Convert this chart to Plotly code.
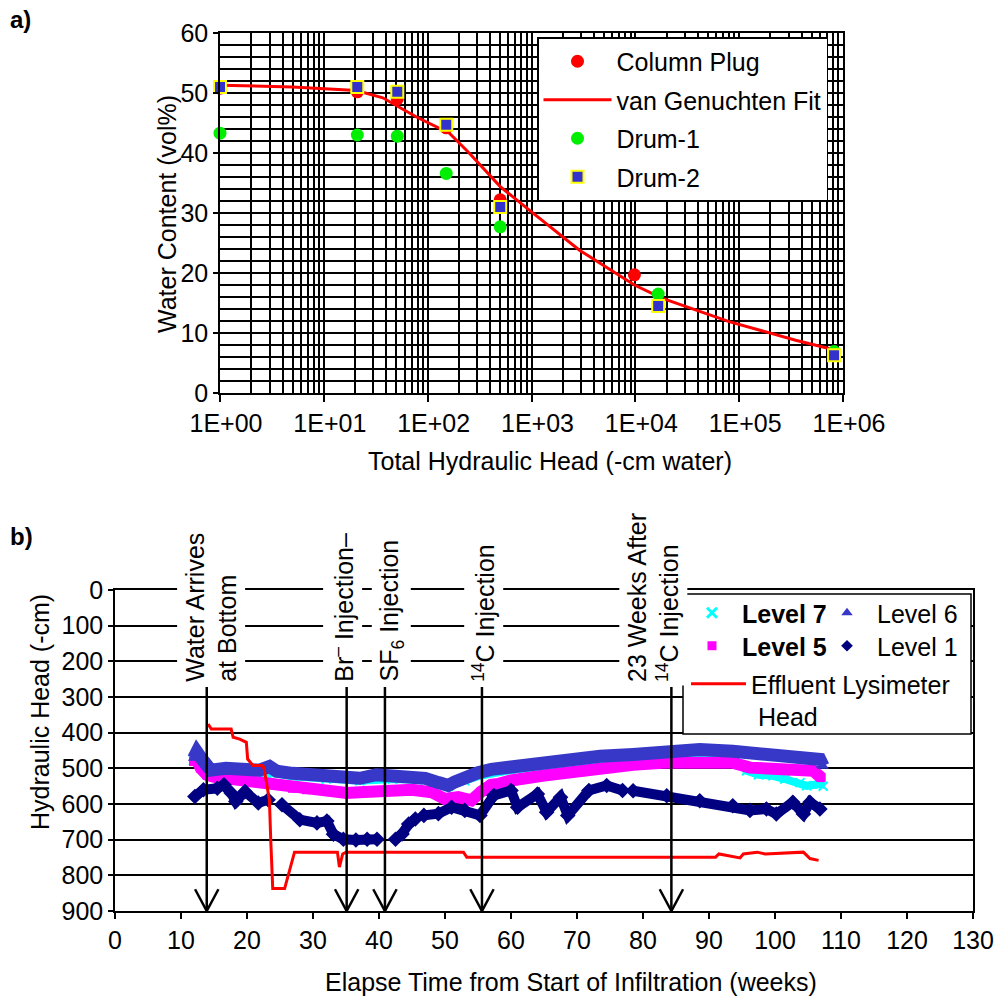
import plotly.graph_objects as go

W = H = 1003
def px(x): return x / W
def py(y): return 1 - y / H

FONT = "Liberation Sans, Arial, sans-serif"

# ---------------- Panel a data ----------------
cp_h = [1, 21, 51, 151, 500, 9800]
cp_theta = [50.8, 50.2, 49.0, 44.2, 32.2, 19.7]
d1_h = [1, 21, 51, 151, 500, 16600, 820000]
d1_theta = [43.3, 43.0, 42.8, 36.6, 27.7, 16.5, 6.9]
d2_h = [1, 21, 51, 151, 500, 16600, 820000]
d2_theta = [51.0, 51.0, 50.2, 44.7, 31.0, 14.5, 6.3]
fit_h = [1, 5, 20.6, 37, 78, 162, 251, 500, 1000, 2900, 9800, 18000, 80000, 350000, 820000]
fit_theta = [51.3, 51.0, 50.4, 49.2, 46.0, 43.3, 40.0, 34.4, 30.2, 23.8, 18.0, 15.8, 11.9, 8.8, 7.2]
a_tickvals = [1, 10, 100, 1000, 10000, 100000, 1000000]
a_ticktext = ["1E+00", "1E+01", "1E+02", "1E+03", "1E+04", "1E+05", "1E+06"]

# ---------------- Panel b data ----------------
w6 = [11.9, 12.4, 13.0, 13.9, 14.5, 16.8, 19.0, 21.9, 23.4, 24.5, 26.9, 29.0, 32.0, 35.0, 37.1, 39.6, 42.0,
      45.0, 47.0, 49.0, 50.5, 51.5, 53.0, 55.0, 57.0, 60.0, 65.0, 70.0, 73.5, 78.5, 83.6, 88.6, 93.6, 98.7,
      103.8, 106.8, 107.3]
v6 = [472, 454, 470, 491, 505, 500, 505, 505, 495, 508, 514, 518, 523, 526, 528, 518, 522, 524, 528, 540, 548,
      538, 525, 512, 503, 495, 483, 474, 466, 461, 456, 447, 452, 461, 466, 475, 494]

w5 = [11.9, 12.3, 13.0, 13.9, 15.0, 16.8, 19.0, 21.9, 24.0, 26.9, 29.0, 32.0, 35.1, 37.0, 39.6, 42.0, 45.0,
      48.0, 50.0, 52.0, 54.0, 55.5, 57.0, 58.0, 60.0, 65.0, 70.0, 73.5, 78.5, 83.6, 88.6, 93.6, 96.2, 101.2,
      105.8, 107.0]
v5 = [481, 472, 500, 518, 524, 528, 532, 537, 545, 556, 560, 565, 569, 567, 565, 562, 560, 567, 586, 581, 590,
      565, 546, 544, 534, 520, 506, 498, 490, 484, 483, 484, 498, 503, 507, 526]

w7 = [11.9, 13.0, 14.0, 16.8, 21.9, 22.6, 23.4, 26.9, 32.0, 37.1, 42.0, 47.0, 50.5, 53.0, 55.0, 60.0, 65.0,
      70.0, 73.5, 78.5, 83.6, 88.6, 93.6, 95.7, 97.5, 99.7, 101.5, 103.8, 104.8, 106.8, 107.3]
v7 = [478, 490, 505, 512, 515, 540, 512, 522, 530, 535, 530, 532, 550, 535, 522, 505, 492, 482, 476, 470, 466,
      462, 468, 507, 518, 521, 530, 540, 549, 544, 550]

w1 = [12.1, 13.4, 15.5, 16.5, 17.6, 18.3, 19.7, 21.7, 23.2, None, 25.3, 28.0, 30.6, 32.1, 33.1, 34.6, 36.5,
      38.2, 39.7, None, 42.5, 43.5, 44.5, 45.5, None, 46.8, 49.0, 51.0, 53.0, 55.3, 57.4, 60.0, 61.0, 64.0,
      65.4, 67.5, 68.6, 71.8, 74.5, 76.9, None, 78.5, 83.6, 88.6, 93.6, 96.2, 98.7, 100.2, 102.7, 104.3,
      105.3, 106.8]
v1 = [579, 560, 556, 546, 569, 593, 565, 597, 588, None, 602, 644, 653, 648, 685, 699, 701, 699, 699, None,
      699, 684, 656, 642, None, 632, 627, 609, 618, 632, 576, 562, 609, 572, 623, 581, 632, 562, 548, 562, None,
      563, 577, 591, 605, 618, 614, 628, 595, 628, 595, 614]

we = [14.1, 14.6, 17.6, 17.9, 18.9, 19.9, 20.1, 20.9, 22.4, 22.6, 22.9, 23.4, 23.6, 23.9, 25.7, 26.7, 27.2,
      33.7, 34.0, 34.5, 35.0, 52.8, 53.3, 91.0, 91.5, 94.7, 95.2, 97.3, 98.5, 104.3, 104.8, 105.3, 106.6]
ve = [376, 390, 390, 413, 418, 427, 474, 492, 492, 502, 534, 590, 702, 837, 837, 772, 735, 735, 777, 740, 735,
      735, 749, 749, 740, 751, 740, 735, 740, 735, 745, 753, 758]

event_weeks = [13.9, 35.1, 40.9, 55.6, 84.3]
event_labels = ["Water Arrives<br>at Bottom", "Br<sup>–</sup> Injection–", "SF<sub>6</sub> Injection",
                "<sup>14</sup>C Injection", "23 Weeks After<br><sup>14</sup>C Injection"]

fig = go.Figure()

# ---- panel a traces ----
fig.add_trace(go.Scatter(x=cp_h, y=cp_theta, mode="markers", name="Column Plug",
                         marker=dict(symbol="circle", color="#FF0000", size=13),
                         cliponaxis=False, legendgroup="a1", xaxis="x", yaxis="y"))
fig.add_trace(go.Scatter(x=fit_h, y=fit_theta, mode="lines", name="van Genuchten Fit",
                         line=dict(color="#FF0000", width=3), legendgroup="a2", xaxis="x", yaxis="y"))
fig.add_trace(go.Scatter(x=d1_h, y=d1_theta, mode="markers", name="Drum-1",
                         marker=dict(symbol="circle", color="#00EE00", size=13),
                         cliponaxis=False, legendgroup="a3", xaxis="x", yaxis="y"))
fig.add_trace(go.Scatter(x=d2_h, y=d2_theta, mode="markers", name="Drum-2",
                         marker=dict(symbol="square", color="#3333CC", size=12,
                                     line=dict(color="#FFFF00", width=2)),
                         cliponaxis=False, legendgroup="a4", xaxis="x", yaxis="y"))

# ---- panel b traces ----
fig.add_trace(go.Scatter(x=w7, y=v7, mode="lines+markers", showlegend=False,
                         line=dict(color="#00FFFF", width=8),
                         marker=dict(symbol="x-thin", size=9, color="#00FFFF",
                                     line=dict(color="#00FFFF", width=2)),
                         xaxis="x2", yaxis="y2"))
fig.add_trace(go.Scatter(x=w5, y=v5, mode="lines+markers", showlegend=False,
                         line=dict(color="#FF00FF", width=12),
                         marker=dict(symbol="square", size=9, color="#FF00FF"),
                         xaxis="x2", yaxis="y2"))
fig.add_trace(go.Scatter(x=w6, y=v6, mode="lines+markers", showlegend=False,
                         line=dict(color="#3838C8", width=13),
                         marker=dict(symbol="triangle-up", size=10, color="#3838C8"),
                         xaxis="x2", yaxis="y2"))
fig.add_trace(go.Scatter(x=w1, y=v1, mode="lines+markers", showlegend=False,
                         line=dict(color="#000080", width=10),
                         marker=dict(symbol="diamond", size=12, color="#000080"),
                         xaxis="x2", yaxis="y2"))
fig.add_trace(go.Scatter(x=we, y=ve, mode="lines", showlegend=False,
                         line=dict(color="#FF0000", width=3),
                         xaxis="x2", yaxis="y2"))

# legend-only entries for panel b (one small legend each, framed by a common box)
fig.add_trace(go.Scatter(x=[None], y=[None], mode="markers", name="<b>Level 7</b>", legend="legend2",
                         marker=dict(symbol="x-thin", size=10, color="#00FFFF",
                                     line=dict(color="#00FFFF", width=3)), xaxis="x2", yaxis="y2"))
fig.add_trace(go.Scatter(x=[None], y=[None], mode="markers", name="<b>Level 5</b>", legend="legend3",
                         marker=dict(symbol="square", size=9, color="#FF00FF"), xaxis="x2", yaxis="y2"))
fig.add_trace(go.Scatter(x=[None], y=[None], mode="markers", name="Level 6", legend="legend4",
                         marker=dict(symbol="triangle-up", size=10, color="#3838C8"), xaxis="x2", yaxis="y2"))
fig.add_trace(go.Scatter(x=[None], y=[None], mode="markers", name="Level 1", legend="legend5",
                         marker=dict(symbol="diamond", size=9, color="#000080"), xaxis="x2", yaxis="y2"))
fig.add_trace(go.Scatter(x=[None], y=[None], mode="lines", name="Effluent Lysimeter<br> Head",
                         legend="legend6", line=dict(color="#FF0000", width=3), xaxis="x2", yaxis="y2"))

# ---- arrows (shapes) ----
shapes = []
AH_W = 1.77   # arrowhead half-width in weeks
AH_H = 61     # arrowhead height in head units
for wk in event_weeks:
    shapes.append(dict(type="line", xref="x2", yref="y2", x0=wk, x1=wk, y0=272, y1=900,
                       line=dict(color="black", width=2.5), layer="above"))
    shapes.append(dict(type="line", xref="x2", yref="y2", x0=wk - AH_W, x1=wk, y0=900 - AH_H, y1=900,
                       line=dict(color="black", width=2.5), layer="above"))
    shapes.append(dict(type="line", xref="x2", yref="y2", x0=wk + AH_W, x1=wk, y0=900 - AH_H, y1=900,
                       line=dict(color="black", width=2.5), layer="above"))
# legend box for panel b
shapes.append(dict(type="rect", xref="paper", yref="paper", x0=px(683), x1=px(971), y0=py(734), y1=py(594),
                   fillcolor="white", line=dict(color="black", width=1.5), layer="above"))

annotations = []
label_centers = [14.5, 34.5, 41.8, 55.8, 81.5]
for t, c in zip(event_labels, label_centers):
    annotations.append(dict(x=c, y=268, xref="x2", yref="y2", text=t, textangle=-90, showarrow=False,
                            xanchor="center", yanchor="bottom", align="left", bgcolor="white",
                            borderpad=3, font=dict(size=25, color="black", family=FONT)))

annotations += [
    dict(x=px(550), y=py(461), xref="paper", yref="paper", text="Total Hydraulic Head (-cm water)",
         showarrow=False, xanchor="center", yanchor="middle", font=dict(size=25)),
    dict(x=px(167), y=py(214), xref="paper", yref="paper", text="Water Content (vol%)", textangle=-90,
         showarrow=False, xanchor="center", yanchor="middle", font=dict(size=25)),
    dict(x=px(571), y=py(982), xref="paper", yref="paper",
         text="Elapse Time from Start of Infiltration (weeks)",
         showarrow=False, xanchor="center", yanchor="middle", font=dict(size=25)),
    dict(x=px(40), y=py(712), xref="paper", yref="paper", text="Hydraulic Head (-cm)", textangle=-90,
         showarrow=False, xanchor="center", yanchor="middle", font=dict(size=25)),
    dict(x=px(8), y=py(19), xref="paper", yref="paper", text="<b>a)</b>",
         showarrow=False, xanchor="left", yanchor="middle", font=dict(size=24)),
    dict(x=px(8), y=py(536), xref="paper", yref="paper", text="<b>b)</b>",
         showarrow=False, xanchor="left", yanchor="middle", font=dict(size=24)),
]

minor_vals = [m * 10 ** k for k in range(6) for m in range(2, 10)]

def small_legend(x, y, iw=50):
    return dict(x=px(x), y=py(y), xanchor="left", yanchor="top", bgcolor="rgba(0,0,0,0)",
                borderwidth=0, font=dict(size=25), itemwidth=iw, valign="top")

fig.update_layout(
    width=W, height=H, margin=dict(l=0, r=0, t=0, b=0, pad=0, autoexpand=False),
    paper_bgcolor="white", plot_bgcolor="white",
    font=dict(family=FONT, size=25, color="black"),
    xaxis=dict(type="log", domain=[px(220), px(843)], range=[0, 6], anchor="y",
               tickvals=a_tickvals, ticktext=a_ticktext, ticks="outside", ticklen=7, tickwidth=1.5,
               tickcolor="black", ticklabelshift=6,
               showgrid=True, gridcolor="black", gridwidth=2,
               minor=dict(tickvals=minor_vals, showgrid=True, gridcolor="black", gridwidth=1.5, ticks=""),
               showline=True, linecolor="black", linewidth=1.5, mirror=True, zeroline=False),
    yaxis=dict(domain=[py(393), py(33)], range=[0, 60], anchor="x", dtick=10, ticks="outside", ticklen=5,
               tickwidth=1.5, tickcolor="black",
               showgrid=True, gridcolor="black", gridwidth=2,
               minor=dict(dtick=2, showgrid=True, gridcolor="black", gridwidth=1.5, ticks=""),
               showline=True, linecolor="black", linewidth=1.5, mirror=True, zeroline=False),
    xaxis2=dict(domain=[px(115), px(973)], range=[0, 130], anchor="y2", dtick=10, ticks="outside",
                ticklen=6, tickwidth=1.5, tickcolor="black", showgrid=False,
                showline=True, linecolor="black", linewidth=1.5, mirror=True, zeroline=False),
    yaxis2=dict(domain=[py(911), py(590)], range=[900, 0], anchor="x2", dtick=100, ticks="outside",
                ticklen=5, tickwidth=1.5, tickcolor="black",
                showgrid=True, gridcolor="black", gridwidth=1.5,
                showline=True, linecolor="black", linewidth=1.5, mirror=True, zeroline=False),
    legend=dict(x=px(537), y=py(37), xanchor="left", yanchor="top", bgcolor="white",
                bordercolor="black", borderwidth=1.5, font=dict(size=25), itemwidth=68,
                traceorder="grouped", tracegroupgap=3),
    legend2=small_legend(682, 590),
    legend3=small_legend(682, 623),
    legend4=small_legend(817, 590),
    legend5=small_legend(817, 623),
    legend6=small_legend(686, 661, iw=55),
    shapes=shapes, annotations=annotations,
    showlegend=True,
)

fig.write_html("out.html")
